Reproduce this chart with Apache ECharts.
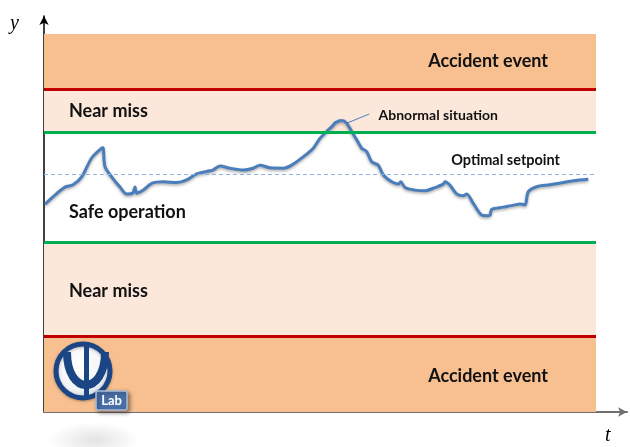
<!DOCTYPE html>
<html>
<head>
<meta charset="utf-8">
<script src="https://cdn.jsdelivr.net/npm/echarts@6/dist/echarts.min.js"></script>
<style>
  html, body { margin: 0; padding: 0; background: #fff; }
  #chart { width: 630px; height: 447px; }
</style>
</head>
<body>
<div id="chart"></div>
<script>
// Process variable over time (arbitrary units, 0–100 on both axes)
const tValues = [0.18, 1.68, 3.80, 5.25, 6.83, 8.64, 10.45, 10.69, 11.05, 12.26, 13.77, 14.98, 16.07, 16.49, 16.79,
  17.99, 19.51, 21.61, 24.04, 25.85, 27.66, 30.07, 30.62, 31.88, 33.70, 36.10, 37.92, 39.13, 40.94, 43.35,
  44.87, 46.97, 48.79, 50.00, 51.21, 52.41, 52.72, 53.93, 54.84, 55.74, 56.65, 57.55, 58.46, 59.37, 60.56,
  61.47, 62.99, 64.18, 64.62, 65.40, 67.21, 69.02, 70.53, 72.34, 72.64, 73.55, 74.76, 75.96, 76.58, 77.77,
  79.29, 80.20, 80.80, 81.11, 83.21, 85.33, 86.23, 87.14, 87.74, 89.26, 91.67, 94.08, 95.89, 98.60];
const yValues = [55.0, 57.0, 59.5, 60.1, 62.2, 67.2, 69.8, 69.9, 64.9, 62.2, 59.5, 57.7, 57.9, 59.5, 57.9,
  58.7, 60.5, 60.9, 60.7, 61.4, 63.0, 63.8, 64.0, 65.1, 64.5, 64.0, 64.5, 65.3, 64.6, 64.5,
  65.3, 67.5, 69.8, 72.4, 74.2, 75.9, 76.5, 77.1, 76.4, 74.2, 72.0, 69.8, 68.9, 66.2, 65.3,
  62.7, 60.9, 60.3, 60.9, 59.4, 58.7, 58.5, 59.2, 60.3, 60.9, 60.0, 57.7, 57.2, 57.7, 55.2,
  52.1, 51.9, 52.1, 53.6, 54.2, 54.8, 55.0, 54.8, 58.3, 59.6, 60.1, 60.7, 61.2, 61.6];

// Operating zones, bottom to top
const zoneNames = ['Accident event', 'Near miss', 'Safe operation', 'Near miss', 'Accident event'];
const zoneBounds = [0, 20, 45, 74, 85.5, 100];
const setpoint = 63;
const setpointLabel = 'Optimal setpoint';
const abnormalLabel = 'Abnormal situation';
const abnormalIndex = 38;          // point on the curve the callout points at
const abnormalCallout = [58.93, 78.84];
const axisNames = ['t', 'y'];

const T_MAX = 100;
const BOLD = { fontFamily: 'Lato', fontWeight: 'bold', color: '#111' };
const ACCIDENT = '#f8c090', NEAR = '#fce8da', RED = '#c00000', GREEN = '#00b050';

const zoneStyle = [
  { color: ACCIDENT, label: { position: 'insideRight', distance: 48, fontSize: 18, offset: [0, 2] } },
  { color: NEAR, label: { position: 'insideLeft', distance: 25, fontSize: 18, offset: [0, 2] } },
  { color: 'rgba(255,255,255,0)', label: { position: 'insideLeft', distance: 25, fontSize: 18, offset: [0, 25] } },
  { color: NEAR, label: { position: 'insideLeft', distance: 25, fontSize: 18, offset: [0, 1] } },
  { color: ACCIDENT, label: { position: 'insideRight', distance: 48, fontSize: 18, offset: [0, 0] } }
];

const areas = zoneNames.map((name, i) => [
  { name, xAxis: 0, yAxis: zoneBounds[i], itemStyle: { color: zoneStyle[i].color },
    label: Object.assign({ show: true }, BOLD, zoneStyle[i].label) },
  { xAxis: T_MAX, yAxis: zoneBounds[i + 1] }
]);

const limitLine = (y, color) => [
  { coord: [0, y], lineStyle: { color, width: 3, type: 'solid' }, label: { show: false } },
  { coord: [T_MAX, y] }
];

const chart = echarts.init(document.getElementById('chart'), null, { renderer: 'canvas' });

// grid geometry: zone top (100) sits below the axis tip, zone right edge leaves room for the arrow
const GRID = { left: 44, right: 3, top: 16, bottom: 35 };
const Y_MAX = 100 * (447 - GRID.top - GRID.bottom) / 378;
const X_MAX = 100 * (630 - GRID.left - GRID.right) / 552;

const LOGO_Z = 100;
const BLUE = '#1b4584';

chart.setOption({
  animation: false,
  grid: GRID,
  xAxis: {
    type: 'value', min: 0, max: X_MAX,
    axisLine: { show: true, symbol: ['none', 'arrow'], symbolSize: [7, 9], lineStyle: { color: '#6f6f6f', width: 2 } },
    axisTick: { show: false }, axisLabel: { show: false }, splitLine: { show: false }
  },
  yAxis: {
    type: 'value', min: 0, max: Y_MAX,
    axisLine: { show: true, symbol: ['none', 'arrow'], symbolSize: [7, 9], lineStyle: { color: '#000', width: 1.5 } },
    axisTick: { show: false }, axisLabel: { show: false }, splitLine: { show: false }
  },
  series: [
    {
      name: 'zones', type: 'line', data: [], silent: true, z: 1,
      markArea: { silent: true, data: areas },
      markLine: {
        silent: true, symbol: 'none',
        data: [
          limitLine(zoneBounds[1], RED),
          limitLine(zoneBounds[2], GREEN),
          limitLine(zoneBounds[3], GREEN),
          limitLine(zoneBounds[4], RED),
          [
            { coord: [0, setpoint], lineStyle: { color: '#8eb4e3', width: 1.2, type: [4, 3] },
              label: Object.assign({ show: true, position: 'insideEndTop', formatter: setpointLabel,
                fontSize: 14.5, distance: [36, 6] }, BOLD) },
            { coord: [T_MAX, setpoint] }
          ]
        ]
      }
    },
    {
      name: 'process', type: 'line', z: 3, symbol: 'none', smooth: 0.3,
      data: tValues.map((t, i) => [t, yValues[i]]),
      lineStyle: { color: '#4a7ebb', width: 3, shadowColor: 'rgba(0,0,0,0.35)', shadowBlur: 3, shadowOffsetY: 1.5 },
      markLine: {
        silent: true, symbol: 'none',
        lineStyle: { color: '#4a7ebb', width: 1, type: 'solid' },
        data: [[
          { coord: [tValues[abnormalIndex], yValues[abnormalIndex]] },
          { coord: abnormalCallout,
            label: Object.assign({ show: true, position: 'end', formatter: abnormalLabel, fontSize: 14,
              distance: 10, offset: [0, 5] }, BOLD) }
        ]]
      }
    }
  ],
  graphic: { elements: [
    { type: 'text', x: 10, y: 14, style: { text: axisNames[1], font: 'italic 20px "Liberation Serif"', fill: '#000' } },
    { type: 'text', x: 605, y: 426, style: { text: axisNames[0], font: 'italic 20px "Liberation Serif"', fill: '#000' } },
    // soft reflection under the logo
    { type: 'circle', x: 94, y: 440, scaleY: 0.4, shape: { cx: 0, cy: 0, r: 45 }, z: 0, silent: true,
      style: { fill: { type: 'radial', x: 0.5, y: 0.5, r: 0.5,
        colorStops: [{ offset: 0, color: 'rgba(0,0,0,0.11)' }, { offset: 1, color: 'rgba(0,0,0,0)' }] } } },
    // logo: ring, psi glyph and "Lab" badge
    { type: 'circle', z: LOGO_Z, shape: { cx: 83, cy: 371, r: 27 },
      style: { fill: { type: 'radial', x: 0.45, y: 0.4, r: 0.6,
        colorStops: [{ offset: 0, color: '#ffffff' }, { offset: 0.7, color: '#f2f4f7' }, { offset: 1, color: '#c9d2df' }] },
        stroke: BLUE, lineWidth: 5, shadowBlur: 3, shadowColor: 'rgba(0,0,0,0.3)', shadowOffsetY: 1 } },
    { type: 'rect', z: LOGO_Z, shape: { x: 84, y: 344, width: 5, height: 55 }, style: { fill: BLUE } },
    { type: 'bezierCurve', z: LOGO_Z, shape: { x1: 67, y1: 352, cpx1: 67, cpy1: 396, cpx2: 105, cpy2: 396, x2: 105, y2: 352 },
      style: { fill: 'none', stroke: BLUE, lineWidth: 8 } },
    { type: 'rect', z: LOGO_Z, shape: { x: 96, y: 391, width: 31, height: 19, r: 2 },
      style: { fill: '#4a6fa8', stroke: '#a9bedb', lineWidth: 1.5, shadowBlur: 4, shadowColor: 'rgba(0,0,0,0.45)', shadowOffsetX: 2, shadowOffsetY: 2 } },
    { type: 'text', z: LOGO_Z + 1, x: 111.5, y: 400.5, style: { text: 'Lab', font: 'bold 13px Lato', fill: '#fff', align: 'center', verticalAlign: 'middle' } }
  ] }
});
</script>
</body>
</html>
